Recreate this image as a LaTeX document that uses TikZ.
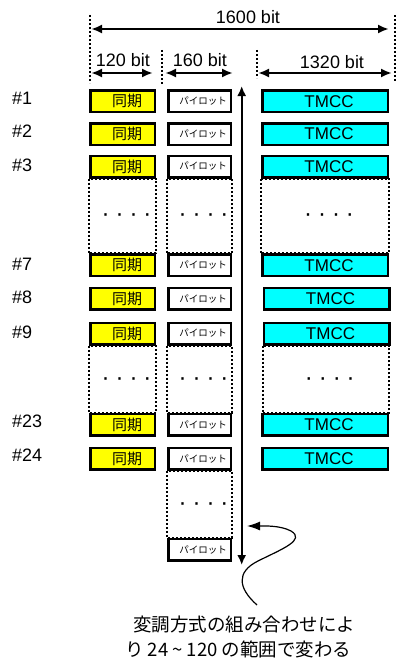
\documentclass[tikz,border=0pt]{standalone}
\usepackage{fontspec}
\setmainfont{Liberation Sans}
\newfontfamily\jp{Noto Sans CJK JP}
\usetikzlibrary{positioning, arrows.meta, calc}
\definecolor{tmcccyan}{RGB}{0,255,255}
\definecolor{syncyellow}{RGB}{255,255,0}
\tikzstyle{sync} = [rectangle, draw=black, line width=2.5pt, fill=syncyellow, minimum width=64.5pt, minimum height=21.5pt, inner sep=0pt, font=\jp\fontsize{15}{15}\selectfont, execute at begin node=\hspace*{9pt}]
\tikzstyle{pilot} = [rectangle, draw=black, line width=2.5pt, fill=white, minimum width=62.5pt, minimum height=21.5pt, inner sep=0pt, font=\jp\fontsize{9.5}{10}\selectfont, execute at begin node=\hspace*{7pt}]
\tikzstyle{tmcc} = [rectangle, draw=black, line width=2.5pt, fill=tmcccyan, minimum width=125.5pt, minimum height=21.5pt, inner sep=0pt, font=\fontsize{17}{17}\selectfont, execute at begin node=\hspace*{8pt}]
\tikzstyle{gap} = [dotted, line width=2pt]
\tikzstyle{dots} = [font=\fontsize{24}{24}\selectfont, inner sep=0pt, xshift=4pt, yshift=-2pt]
\tikzstyle{rowlabel} = [anchor=west, inner sep=0pt, font=\fontsize{18}{18}\selectfont]
\tikzstyle{dimlabel} = [inner sep=0pt, font=\fontsize{18}{18}\selectfont]
\tikzstyle{guide} = [dotted, line width=2pt]
\tikzstyle{dimarrow} = [<->, >={Latex[length=11pt,width=9pt]}, line width=2.5pt]
\tikzstyle{arrow} = [<->, >={Latex[length=10pt,width=9pt]}, line width=1.8pt]
\newcommand{\fourdots}{·\hspace{6pt}·\hspace{6pt}·\hspace{6pt}·}

\begin{document}
\begin{tikzpicture}[x=1pt, y=1pt]
\useasboundingbox (0,0) rectangle (398,-661);
%寸法線
\coordinate (g1t) at (90,-15);
\coordinate (g1b) at (90,-83);
\coordinate (g2t) at (395,-15);
\coordinate (g2b) at (395,-82);
\coordinate (g3t) at (162,-50);
\coordinate (g3b) at (162,-85);
\coordinate (g4t) at (257,-50);
\coordinate (g4b) at (257,-78);
\draw [guide] (g1t) -- (g1b);
\draw [guide] (g2t) -- (g2b);
\draw [guide] (g3t) -- (g3b);
\draw [guide] (g4t) -- (g4b);
\coordinate (all1) at (91,-29);
\coordinate (all2) at (389,-29);
\coordinate (sy1) at (91,-73);
\coordinate (sy2) at (153,-73);
\coordinate (pi1) at (165,-73);
\coordinate (pi2) at (233,-73);
\coordinate (tm1) at (258,-73);
\coordinate (tm2) at (392,-73);
\draw [dimarrow] (all1) -- (all2);
\draw [dimarrow] (sy1) -- (sy2);
\draw [dimarrow] (pi1) -- (pi2);
\draw [dimarrow] (tm1) -- (tm2);
\node[dimlabel] (lall) at (248,-17) {1600 bit};
\node[dimlabel] (lsy) at (123,-60) {120 bit};
\node[dimlabel] (lpi) at (200,-60) {160 bit};
\node[dimlabel] (ltm) at (332,-62) {1320 bit};
%各行
\node[sync] (s1) at (122.5,-101.3) {同期};
\node[pilot, right = 11pt of s1] (p1) {パイロット};
\node[tmcc, right = 29pt of p1] (t1) {TMCC};
\node[sync] (s2) at (122.5,-134) {同期};
\node[pilot, right = 11pt of s2] (p2) {パイロット};
\node[tmcc, right = 29pt of p2] (t2) {TMCC};
\node[sync] (s3) at (122.5,-166.5) {同期};
\node[pilot, right = 11pt of s3] (p3) {パイロット};
\node[tmcc, right = 29pt of p3] (t3) {TMCC};
\node[sync] (s7) at (122.5,-265.3) {同期};
\node[pilot, right = 11pt of s7] (p7) {パイロット};
\node[tmcc, right = 29pt of p7] (t7) {TMCC};
\node[sync] (s8) at (122.5,-298.7) {同期};
\node[pilot, right = 11pt of s8] (p8) {パイロット};
\node[tmcc, right = 30.5pt of p8] (t8) {TMCC};
\node[sync] (s9) at (122.5,-333.5) {同期};
\node[pilot, right = 11pt of s9] (p9) {パイロット};
\node[tmcc, right = 30.5pt of p9] (t9) {TMCC};
\node[sync] (s23) at (122.5,-424.7) {同期};
\node[pilot, right = 11pt of s23] (p23) {パイロット};
\node[tmcc, right = 29pt of p23] (t23) {TMCC};
\node[sync] (s24) at (122.5,-458.8) {同期};
\node[pilot, right = 11pt of s24] (p24) {パイロット};
\node[tmcc, right = 29pt of p24] (t24) {TMCC};
\node[pilot, below = 67pt of p24] (pend) {パイロット};
%省略部分
\draw [gap] (s3.south west) rectangle (s7.north east);
\draw [gap] (p3.south west) rectangle (p7.north east);
\draw [gap] (t3.south west) rectangle (t7.north east);
\draw [gap] (s9.south west) rectangle (s23.north east);
\draw [gap] (p9.south west) rectangle (p23.north east);
\draw [gap] (t9.south west) rectangle (t23.north east);
\draw [gap] (p24.south west) rectangle (pend.north east);
\node[dots] (d1) at ($(s3.south)!0.5!(s7.north)$) {\fourdots};
\node[dots] (d2) at ($(p3.south)!0.5!(p7.north)$) {\fourdots};
\node[dots] (d3) at ($(t3.south)!0.5!(t7.north)$) {\fourdots};
\node[dots] (d4) at ($(s9.south)!0.5!(s23.north)$) {\fourdots};
\node[dots] (d5) at ($(p9.south)!0.5!(p23.north)$) {\fourdots};
\node[dots] (d6) at ($(t9.south)!0.5!(t23.north)$) {\fourdots};
\node[dots] (d7) at ($(p24.south)!0.5!(pend.north)$) {\fourdots};
%行番号
\node[rowlabel] (n1) at (12,-98.3) {\#1};
\node[rowlabel] (n2) at (12,-131.7) {\#2};
\node[rowlabel] (n3) at (12,-165.5) {\#3};
\node[rowlabel] (n7) at (12,-264) {\#7};
\node[rowlabel] (n8) at (12,-297.5) {\#8};
\node[rowlabel] (n9) at (12,-332.5) {\#9};
\node[rowlabel] (n23) at (12,-421.5) {\#23};
\node[rowlabel] (n24) at (12,-455) {\#24};
%縦の矢印と説明
\coordinate (vtop) at (241.7,-86);
\coordinate (vbot) at (241.7,-565);
\draw [arrow] (vtop) -- (vbot);
\coordinate (cs) at (257,-605);
\coordinate (ce) at (247,-526);
\draw [-{Latex[length=13pt,width=9pt]}, line width=1.2pt] (cs) .. controls (238,-588) and (236,-572) .. (258,-561) .. controls (282,-549) and (306,-540) .. (291,-531) .. controls (280,-525) and (262,-526) .. (ce);
\node[anchor=north west, inner sep=0pt, align=left, font=\jp\fontsize{18.5}{24.5}\selectfont] (note) at (125,-616) {\hspace*{8pt}変調方式の組み合わせによ\\り 24 \textasciitilde{} 120 の範囲で変わる};
\end{tikzpicture}
\end{document}
